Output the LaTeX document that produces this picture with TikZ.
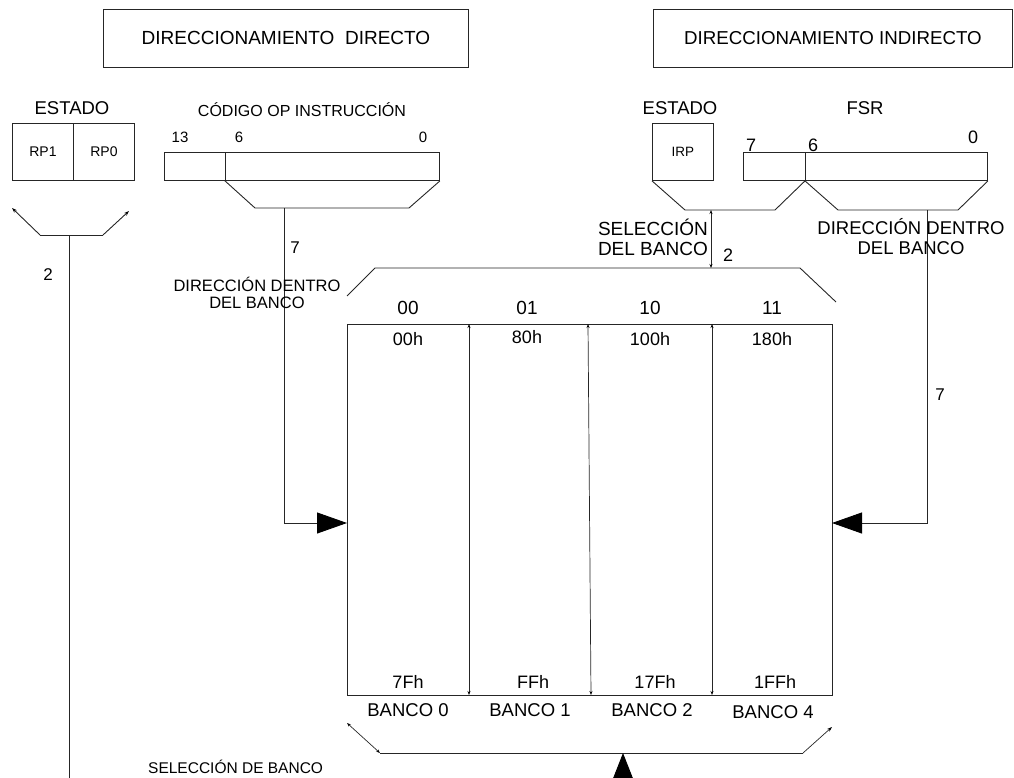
\documentclass[tikz,border=0pt]{standalone}
\usepackage{fontspec}
\setmainfont{Liberation Sans}
\usetikzlibrary{arrows.meta}
\begin{document}
\begin{tikzpicture}[x=1pt,y=-1pt,
  line/.style={draw=black!85, line width=0.9pt},
  fine/.style={draw=black!85, line width=0.7pt},
  box/.style={draw=black!85, line width=0.9pt, inner sep=0pt, anchor=north west},
  fs/.style={inner sep=0pt, font=\fontsize{#1}{20}\selectfont},
  tip/.style={-{Stealth[length=5pt,width=3.5pt,color=black]}},
  twotip/.style={{Stealth[length=4pt,width=3pt,color=black]}-{Stealth[length=4pt,width=3pt,color=black]}},
  bigtip/.style={-{Triangle[length=30pt,width=21pt,color=black]}}
]
\useasboundingbox (0,0) rectangle (1014,778);

% ---- headers
\node[box, minimum width=365pt, minimum height=58pt, font=\fontsize{19}{20}\selectfont] (hdD) at (103,9) {DIRECCIONAMIENTO\ \ DIRECTO};
\node[box, minimum width=359pt, minimum height=58pt, font=\fontsize{18.7}{20}\selectfont] (hdI) at (653,9) {DIRECCIONAMIENTO INDIRECTO};

% ---- direct addressing: STATUS bits RP1/RP0
\node[fs=18.5] (estL) at (72,108) {ESTADO};
\node[box, minimum width=61pt, minimum height=57pt, font=\fontsize{14}{16}\selectfont] (rp1) at (12,123) {RP1};
\node[box, minimum width=61pt, minimum height=57pt, font=\fontsize{14}{16}\selectfont] (rp0) at (73,123) {RP0};
\coordinate (sL) at (40,235);
\coordinate (sR) at (103,235);
\coordinate (sM) at (69,235);
\coordinate (sLt) at (12,208);
\coordinate (sRt) at (129,211);
\coordinate (sBot) at (69,778);
\draw[line, tip] (sL) -- (sLt);
\draw[line, tip] (sR) -- (sRt);
\draw[line] (sL) -- (sR);
\draw[line] (sM) -- (sBot);
\node[fs=17] (n2L) at (48,275) {2};

% ---- instruction opcode
\node[fs=16] (opT) at (302,110) {CÓDIGO OP INSTRUCCIÓN};
\node[box, minimum width=61pt, minimum height=28pt] (opH) at (164,152) {};
\node[box, minimum width=214pt, minimum height=28pt] (opL) at (225,152) {};
\node[fs=15] (b13) at (180,137) {13};
\node[fs=15] (b6) at (239,137) {6};
\node[fs=15] (b0) at (423,137) {0};
\coordinate (opA) at (255,208);
\coordinate (opB) at (409,208);
\coordinate (opM) at (284,208);
\coordinate (opK) at (284,523);
\draw[line] (opL.south west) -- (opA) -- (opB) -- (opL.south east);

% ---- memory banks
\node[box, minimum width=485pt, minimum height=371pt] (mem) at (347,324) {};
\coordinate (memW) at (347,523);
\coordinate (memE) at (832,523);
\draw[line, bigtip] (opM) -- (opK) -- (memW);
\node[fs=17] (n7L) at (295,248) {7};
\node[align=center, inner sep=0pt, font=\fontsize{16.5}{17.5}\selectfont] (ddL) at (257,293) {DIRECCIÓN DENTRO\\DEL BANCO};

\coordinate (d1t) at (469,324); \coordinate (d1b) at (469,695);
\coordinate (d2t) at (588,324); \coordinate (d2b) at (591,695);
\coordinate (d3t) at (712,324); \coordinate (d3b) at (712,695);
\draw[fine, twotip] (d1t) -- (d1b);
\draw[fine, twotip] (d2t) -- (d2b);
\draw[fine, twotip] (d3t) -- (d3b);

\coordinate (tA) at (347,296);
\coordinate (tB) at (375,268);
\coordinate (tC) at (800,268);
\coordinate (tD) at (836,302);
\draw[line] (tA) -- (tB) -- (tC) -- (tD);

\node[fs=19] (c00) at (408,308) {00};
\node[fs=19] (c01) at (527,308) {01};
\node[fs=19] (c10) at (650,308) {10};
\node[fs=19] (c11) at (772,308) {11};
\node[fs=18] (a0) at (408,339) {00h};
\node[fs=18] (a1) at (527,337) {80h};
\node[fs=18] (a2) at (650,339) {100h};
\node[fs=18] (a3) at (772,339) {180h};
\node[fs=18] (e0) at (408,682) {7Fh};
\node[fs=18] (e1) at (533,682) {FFh};
\node[fs=18] (e2) at (655,682) {17Fh};
\node[fs=18] (e3) at (775,682) {1FFh};
\node[fs=18.5] (k0) at (408,710) {BANCO 0};
\node[fs=18.5] (k1) at (530,710) {BANCO 1};
\node[fs=18.5] (k2) at (652,710) {BANCO 2};
\node[fs=18.5] (k3) at (773,712) {BANCO 4};

% ---- bank select at the bottom
\coordinate (bA) at (347,723);
\coordinate (bB) at (380,753);
\coordinate (bC) at (803,753);
\coordinate (bD) at (832,727);
\coordinate (bUp) at (623,753);
\coordinate (bIn) at (623,778);
\draw[fine, twotip] (bA) -- (bB);
\draw[line] (bB) -- (bC);
\draw[fine, tip] (bC) -- (bD);
\draw[-{Triangle[length=27pt,width=21pt,color=black]}, black, line width=0.9pt] (bIn) -- (bUp);
\node[fs=15.5, anchor=west] (selB) at (148,767) {SELECCIÓN DE BANCO};

% ---- indirect addressing: IRP and FSR
\node[fs=18.5] (estR) at (680,108) {ESTADO};
\node[box, minimum width=61pt, minimum height=57pt, font=\fontsize{13.5}{15}\selectfont] (irp) at (652,123) {IRP};
\node[fs=18.5] (fsrT) at (865,108) {FSR};
\node[box, minimum width=62pt, minimum height=28pt] (fsrH) at (743,152) {};
\node[box, minimum width=182pt, minimum height=28pt] (fsrL) at (805,152) {};
\node[fs=18] (f7) at (751,145) {7};
\node[fs=18] (f6) at (813,145) {6};
\node[fs=18] (f0) at (973,137) {0};

\coordinate (iA) at (685,210);
\coordinate (iB) at (775,210);
\coordinate (fA) at (838,210);
\coordinate (fB) at (958,210);
\draw[line] (irp.south west) -- (iA) -- (iB) -- (fsrL.south west);
\draw[line] (fsrL.south west) -- (fA) -- (fB) -- (fsrL.south east);

\coordinate (sbT) at (711,210);
\coordinate (sbB) at (711,268);
\draw[fine, twotip] (sbT) -- (sbB);
\node[anchor=east, align=right, inner sep=0pt, font=\fontsize{19}{20}\selectfont] (selR) at (708,237) {SELECCIÓN\\DEL BANCO};
\node[fs=18] (n2R) at (728,255) {2};

\coordinate (fsM) at (927,210);
\coordinate (fsK) at (927,523);
\draw[line, bigtip] (fsM) -- (fsK) -- (memE);
\node[fs=17] (n7R) at (940,395) {7};
\node[align=center, inner sep=0pt, font=\fontsize{18.5}{20}\selectfont] (ddR) at (911,237) {DIRECCIÓN DENTRO\\DEL BANCO};
\end{tikzpicture}
\end{document}
